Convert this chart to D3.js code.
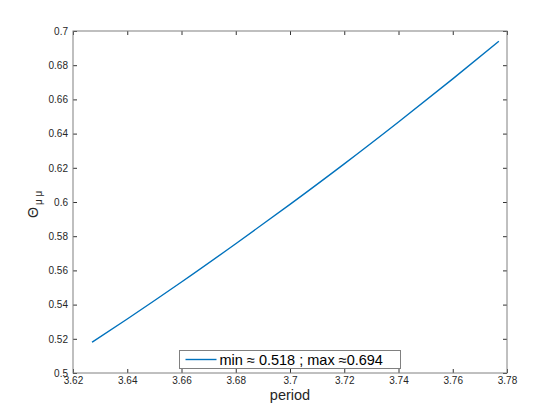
<!DOCTYPE html>
<html>
<head>
<meta charset="utf-8">
<script src="https://cdn.jsdelivr.net/npm/d3@7"></script>
<style>
  body { margin: 0; background: #fff; }
  text { font-family: "Liberation Sans", Arial, sans-serif; }
</style>
</head>
<body>
<svg id="chart"></svg>
<script>
// values
let periods = [3.627, 3.64, 3.66, 3.68, 3.70, 3.72, 3.74, 3.76, 3.777];
let thetas  = [0.518, 0.5316, 0.5532, 0.5756, 0.5986, 0.6223, 0.6468, 0.672, 0.694];
let xTicks = [3.62, 3.64, 3.66, 3.68, 3.7, 3.72, 3.74, 3.76, 3.78];
let yTicks = [0.5, 0.52, 0.54, 0.56, 0.58, 0.6, 0.62, 0.64, 0.66, 0.68, 0.7];
let legendLabel = "min \u2248 0.518 ; max \u22480.694";

function getConfig() {
    let width = 560;
    let height = 420;
    let margin = { top: 31, bottom: 47, left: 73, right: 53 };
    let bodyWidth = width - margin.left - margin.right;
    let bodyHeight = height - margin.top - margin.bottom;
    let container = d3.select("#chart").attr("width", width).attr("height", height);
    return { width, height, margin, bodyWidth, bodyHeight, container };
}

function getScales(config) {
    let xScale = d3.scaleLinear().domain([3.62, 3.78]).range([0, config.bodyWidth]);
    let yScale = d3.scaleLinear().domain([0.5, 0.7]).range([config.bodyHeight, 0]);
    return { xScale, yScale };
}

function styleAxis(g) {
    g.select(".domain").remove();
    g.selectAll(".tick line").attr("stroke", "#333");
    g.selectAll(".tick text").attr("fill", "#262626").style("font-size", "10px");
}

function drawAxes(scales, config) {
    let { xScale, yScale } = scales;
    let { container, margin, bodyWidth, bodyHeight } = config;
    let body = container.append("g").attr("transform", `translate(${margin.left},${margin.top})`);

    // inward ticks on all four sides, like matlab
    body.append("g").attr("transform", `translate(0,${bodyHeight})`)
        .call(d3.axisBottom(xScale).tickValues(xTicks).tickSize(-4).tickPadding(4).tickFormat(d3.format("")))
        .call(styleAxis);
    body.append("g")
        .call(d3.axisTop(xScale).tickValues(xTicks).tickSize(-4).tickFormat(""))
        .call(styleAxis);
    body.append("g")
        .call(d3.axisLeft(yScale).tickValues(yTicks).tickSize(-4).tickPadding(5).tickFormat(d3.format("")))
        .call(styleAxis);
    body.append("g").attr("transform", `translate(${bodyWidth},0)`)
        .call(d3.axisRight(yScale).tickValues(yTicks).tickSize(-4).tickFormat(""))
        .call(styleAxis);

    body.append("rect")
        .attr("width", bodyWidth).attr("height", bodyHeight)
        .attr("fill", "none").attr("stroke", "#808080").attr("stroke-width", 1);

    // x label
    container.append("text")
        .attr("x", margin.left + bodyWidth / 2).attr("y", 400)
        .attr("text-anchor", "middle").attr("fill", "#262626")
        .style("font-size", "14.5px").text("period");

    // y label: Theta with mu mu subscript, rotated
    let yl = container.append("text")
        .attr("transform", `translate(38,${margin.top + bodyHeight / 2 + 16}) rotate(-90)`)
        .attr("fill", "#262626").style("font-size", "14px");
    yl.append("tspan").text("\u0398");
    yl.append("tspan").attr("dy", 4).attr("dx", 2).style("font-size", "10px").text("\u03bc \u03bc");

    return body;
}

function drawLine(body, scales) {
    let { xScale, yScale } = scales;
    let points = periods.map((p, i) => [p, thetas[i]]);
    let line = d3.line()
        .x(d => xScale(d[0]))
        .y(d => yScale(d[1]))
        .curve(d3.curveMonotoneX);
    body.append("path")
        .datum(points)
        .attr("d", line)
        .attr("fill", "none")
        .attr("stroke", "#0072BD")
        .attr("stroke-width", 1.4);
}

function drawLegend(config) {
    let { container } = config;
    let g = container.append("g").attr("transform", "translate(179.5,350.5)");
    g.append("rect").attr("width", 221).attr("height", 18)
        .attr("fill", "#fff").attr("stroke", "#808080");
    g.append("line").attr("x1", 6).attr("x2", 37).attr("y1", 9).attr("y2", 9)
        .attr("stroke", "#0072BD").attr("stroke-width", 1.4);
    g.append("text").attr("x", 40).attr("y", 14)
        .attr("fill", "#000").style("font-size", "14.5px").text(legendLabel);
}

let config = getConfig();
let scales = getScales(config);
let body = drawAxes(scales, config);
drawLine(body, scales);
drawLegend(config);
</script>
</body>
</html>
